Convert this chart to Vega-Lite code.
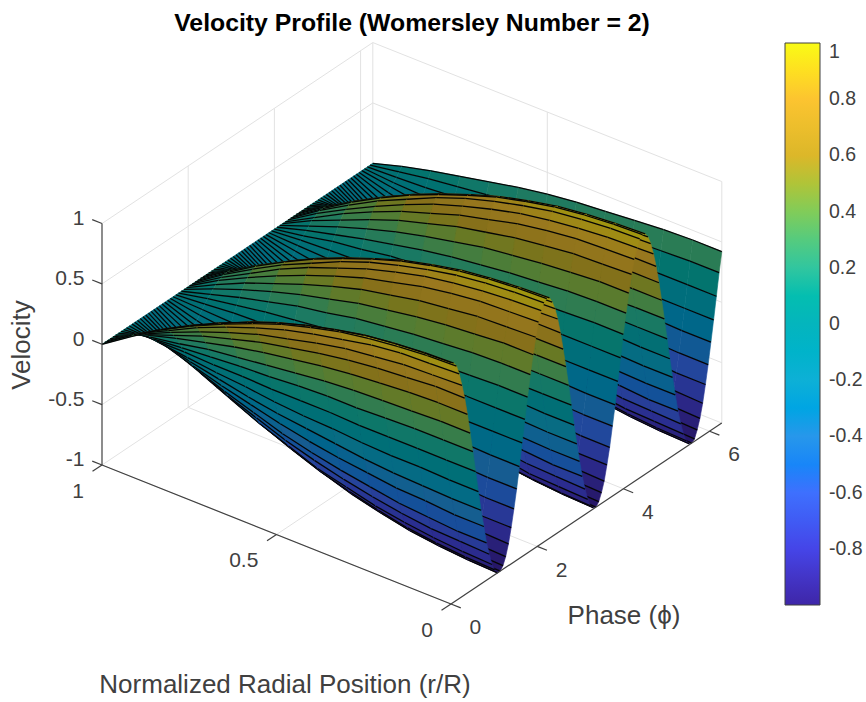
{"$schema":"https://vega.github.io/schema/vega-lite/v6.json","width":866,"height":702,"padding":0,"autosize":{"type":"none"},"background":"#ffffff","view":{"stroke":null},
"title":{"text":"Velocity Profile (Womersley Number = 2)","font":"Liberation Sans","fontSize":24.8,"fontWeight":"bold","color":"#000000","anchor":"middle","frame":"group","dx":-21,"offset":-36},
"datasets":{
"grid":[{"p":0,"r":0,"z":-1,"p2":0,"r2":1,"z2":-1},{"p":2,"r":0,"z":-1,"p2":2,"r2":1,"z2":-1},{"p":4,"r":0,"z":-1,"p2":4,"r2":1,"z2":-1},{"p":6,"r":0,"z":-1,"p2":6,"r2":1,"z2":-1},{"p":6.283,"r":0,"z":-1,"p2":6.283,"r2":1,"z2":-1},{"p":0,"r":0.5,"z":-1,"p2":6.283,"r2":0.5,"z2":-1},{"p":0,"r":1,"z":-1,"p2":6.283,"r2":1,"z2":-1},{"p":0,"r":1,"z":-0.5,"p2":6.283,"r2":1,"z2":-0.5},{"p":0,"r":1,"z":0,"p2":6.283,"r2":1,"z2":0},{"p":0,"r":1,"z":0.5,"p2":6.283,"r2":1,"z2":0.5},{"p":0,"r":1,"z":1,"p2":6.283,"r2":1,"z2":1},{"p":2,"r":1,"z":-1,"p2":2,"r2":1,"z2":1},{"p":4,"r":1,"z":-1,"p2":4,"r2":1,"z2":1},{"p":6,"r":1,"z":-1,"p2":6,"r2":1,"z2":1},{"p":6.283,"r":1,"z":-1,"p2":6.283,"r2":1,"z2":1},{"p":6.283,"r":0,"z":-0.5,"p2":6.283,"r2":1,"z2":-0.5},{"p":6.283,"r":0,"z":0,"p2":6.283,"r2":1,"z2":0},{"p":6.283,"r":0,"z":0.5,"p2":6.283,"r2":1,"z2":0.5},{"p":6.283,"r":0,"z":1,"p2":6.283,"r2":1,"z2":1},{"p":6.283,"r":0.5,"z":-1,"p2":6.283,"r2":0.5,"z2":1},{"p":6.283,"r":0,"z":-1,"p2":6.283,"r2":0,"z2":1}],
"axes":[{"p":0,"r":1,"z":-1,"p2":0,"r2":1,"z2":1},{"p":0,"r":0,"z":-1,"p2":0,"r2":1,"z2":-1},{"p":0,"r":0,"z":-1,"p2":6.283,"r2":0,"z2":-1},{"p":0,"r":1,"z":-1,"p2":0,"r2":1.028,"z2":-1},{"p":0,"r":1,"z":-0.5,"p2":0,"r2":1.028,"z2":-0.5},{"p":0,"r":1,"z":0,"p2":0,"r2":1.028,"z2":0},{"p":0,"r":1,"z":0.5,"p2":0,"r2":1.028,"z2":0.5},{"p":0,"r":1,"z":1,"p2":0,"r2":1.028,"z2":1},{"p":0,"r":0,"z":-1,"p2":-0.22,"r2":0,"z2":-1},{"p":0,"r":0.5,"z":-1,"p2":-0.22,"r2":0.5,"z2":-1},{"p":0,"r":1,"z":-1,"p2":-0.22,"r2":1,"z2":-1},{"p":0,"r":0,"z":-1,"p2":0,"r2":-0.028,"z2":-1},{"p":2,"r":0,"z":-1,"p2":2,"r2":-0.028,"z2":-1},{"p":4,"r":0,"z":-1,"p2":4,"r2":-0.028,"z2":-1},{"p":6,"r":0,"z":-1,"p2":6,"r2":-0.028,"z2":-1}],
"zlabels":[{"t":"1","p":0,"r":1.05,"z":0.98},{"t":"0.5","p":0,"r":1.05,"z":0.48},{"t":"0","p":0,"r":1.05,"z":-0.02},{"t":"-0.5","p":0,"r":1.05,"z":-0.52},{"t":"-1","p":0,"r":1.05,"z":-1.02},{"t":"1","p":-0.42,"r":1,"z":-1.12},{"t":"0.5","p":-0.42,"r":0.5,"z":-1.12},{"t":"0","p":-0.42,"r":0,"z":-1.12}],
"plabels":[{"t":"0","p":0,"r":-0.07,"z":-1.12},{"t":"2","p":2,"r":-0.07,"z":-1.12},{"t":"4","p":4,"r":-0.07,"z":-1.12},{"t":"6","p":6,"r":-0.07,"z":-1.12}],
"surface":[
{"p":6.283,"v":[42,42,41,39,37,35,32,28,23,18,13,7]},
{"p":6.220,"v":[26,26,25,24,23,21,20,17,14,11,8,4]},
{"p":6.157,"v":[8,8,8,8,7,7,6,5,4,4,2,1]},
{"p":6.093,"v":[-10,-10,-10,-9,-9,-8,-8,-7,-6,-4,-3,-2]},
{"p":6.030,"v":[-27,-27,-26,-25,-24,-22,-20,-18,-15,-12,-8,-4]},
{"p":5.966,"v":[-44,-44,-43,-41,-39,-36,-33,-29,-24,-19,-13,-7]},
{"p":5.903,"v":[-59,-59,-57,-55,-52,-49,-44,-39,-33,-26,-18,-9]},
{"p":5.839,"v":[-73,-72,-71,-68,-65,-60,-55,-48,-41,-32,-22,-12]},
{"p":5.776,"v":[-84,-83,-82,-79,-75,-69,-63,-55,-47,-37,-26,-13]},
{"p":5.712,"v":[-92,-91,-89,-86,-82,-76,-69,-61,-51,-40,-28,-15]},
{"p":5.649,"v":[-98,-97,-95,-92,-87,-81,-74,-65,-54,-43,-30,-16]},
{"p":5.585,"v":[-100,-99,-97,-94,-89,-83,-75,-66,-56,-44,-31,-16]},
{"p":5.522,"v":[-99,-98,-96,-93,-88,-82,-74,-65,-55,-43,-30,-16]},
{"p":5.458,"v":[-95,-94,-92,-89,-84,-78,-71,-63,-53,-42,-29,-15]},
{"p":5.395,"v":[-88,-87,-86,-83,-78,-73,-66,-58,-49,-39,-27,-14]},
{"p":5.331,"v":[-78,-77,-76,-73,-69,-64,-59,-51,-43,-34,-24,-12]},
{"p":5.268,"v":[-66,-66,-64,-62,-59,-55,-50,-44,-37,-29,-20,-11]},
{"p":5.204,"v":[-51,-51,-50,-48,-45,-42,-38,-34,-28,-22,-16,-8]},
{"p":5.141,"v":[-35,-35,-34,-33,-31,-29,-26,-23,-19,-15,-11,-6]},
{"p":5.077,"v":[-18,-18,-17,-17,-16,-15,-14,-12,-10,-8,-6,-3]},
{"p":5.014,"v":[0,0,0,0,0,0,0,0,0,0,0,0]},
{"p":4.950,"v":[18,18,17,17,16,15,14,12,10,8,6,3]},
{"p":4.887,"v":[35,35,34,33,31,29,26,23,19,15,11,6]},
{"p":4.824,"v":[51,51,50,48,45,42,38,34,28,22,16,8]},
{"p":4.760,"v":[66,66,64,62,59,55,50,44,37,29,20,11]},
{"p":4.697,"v":[78,77,76,73,69,64,59,51,43,34,24,12]},
{"p":4.633,"v":[88,87,86,83,78,73,66,58,49,39,27,14]},
{"p":4.570,"v":[95,94,92,89,84,78,71,63,53,42,29,15]},
{"p":4.506,"v":[99,98,96,93,88,82,74,65,55,43,30,16]},
{"p":4.443,"v":[100,99,97,94,89,83,75,66,56,44,31,16]},
{"p":4.379,"v":[98,97,95,92,87,81,74,65,54,43,30,16]},
{"p":4.316,"v":[92,91,89,86,82,76,69,61,51,40,28,15]},
{"p":4.252,"v":[84,83,82,79,75,69,63,55,47,37,26,13]},
{"p":4.189,"v":[73,72,71,68,65,60,55,48,41,32,22,12]},
{"p":4.125,"v":[59,59,57,55,52,49,44,39,33,26,18,9]},
{"p":4.062,"v":[44,44,43,41,39,36,33,29,24,19,13,7]},
{"p":3.998,"v":[28,28,27,26,25,23,21,18,16,12,9,4]},
{"p":3.935,"v":[10,10,10,9,9,8,8,7,6,4,3,2]},
{"p":3.871,"v":[-8,-8,-8,-8,-7,-7,-6,-5,-4,-4,-2,-1]},
{"p":3.808,"v":[-26,-26,-25,-24,-23,-21,-20,-17,-14,-11,-8,-4]},
{"p":3.745,"v":[-42,-42,-41,-39,-37,-35,-32,-28,-23,-18,-13,-7]},
{"p":3.681,"v":[-58,-58,-56,-54,-52,-48,-44,-38,-32,-25,-18,-9]},
{"p":3.618,"v":[-71,-71,-69,-67,-63,-59,-53,-47,-39,-31,-22,-11]},
{"p":3.554,"v":[-83,-82,-81,-78,-74,-69,-62,-55,-46,-36,-25,-13]},
{"p":3.491,"v":[-91,-90,-88,-85,-81,-75,-68,-60,-51,-40,-28,-15]},
{"p":3.427,"v":[-97,-96,-94,-91,-86,-80,-73,-64,-54,-42,-30,-16]},
{"p":3.364,"v":[-100,-99,-97,-94,-89,-83,-75,-66,-56,-44,-31,-16]},
{"p":3.300,"v":[-99,-98,-96,-93,-88,-82,-74,-65,-55,-43,-30,-16]},
{"p":3.237,"v":[-96,-95,-93,-90,-85,-79,-72,-63,-53,-42,-29,-15]},
{"p":3.173,"v":[-89,-88,-87,-83,-79,-74,-67,-59,-49,-39,-27,-14]},
{"p":3.110,"v":[-79,-78,-77,-74,-70,-65,-59,-52,-44,-35,-24,-13]},
{"p":3.046,"v":[-67,-67,-65,-63,-60,-55,-50,-44,-37,-29,-21,-11]},
{"p":2.983,"v":[-53,-53,-52,-50,-47,-44,-40,-35,-29,-23,-16,-8]},
{"p":2.920,"v":[-37,-37,-36,-35,-33,-31,-28,-24,-21,-16,-11,-6]},
{"p":2.856,"v":[-20,-20,-19,-19,-18,-17,-15,-13,-11,-9,-6,-3]},
{"p":2.793,"v":[-2,-2,-2,-2,-2,-2,-2,-1,-1,-1,-1,0]},
{"p":2.729,"v":[16,16,16,15,14,13,12,11,9,7,5,3]},
{"p":2.666,"v":[33,33,32,31,29,27,25,22,18,14,10,5]},
{"p":2.602,"v":[49,49,48,46,44,40,37,32,27,21,15,8]},
{"p":2.539,"v":[64,64,62,60,57,53,48,42,36,28,20,10]},
{"p":2.475,"v":[77,76,75,72,68,64,58,51,43,34,24,12]},
{"p":2.412,"v":[87,86,85,82,77,72,65,57,48,38,27,14]},
{"p":2.348,"v":[94,93,91,88,84,78,71,62,52,41,29,15]},
{"p":2.285,"v":[99,98,96,93,88,82,74,65,55,43,30,16]},
{"p":2.221,"v":[100,99,97,94,89,83,75,66,56,44,31,16]},
{"p":2.158,"v":[98,97,95,92,87,81,74,65,54,43,30,16]},
{"p":2.094,"v":[93,92,90,87,83,77,70,61,52,41,28,15]},
{"p":2.031,"v":[85,84,83,80,76,70,64,56,47,37,26,14]},
{"p":1.967,"v":[74,73,72,69,66,61,56,49,41,32,23,12]},
{"p":1.904,"v":[61,61,59,57,54,50,46,40,34,27,19,10]},
{"p":1.841,"v":[46,46,45,43,41,38,35,30,26,20,14,7]},
{"p":1.777,"v":[29,29,28,27,26,24,22,19,16,13,9,5]},
{"p":1.714,"v":[12,12,12,11,11,10,9,8,7,5,4,2]},
{"p":1.650,"v":[-6,-6,-6,-6,-5,-5,-5,-4,-3,-3,-2,-1]},
{"p":1.587,"v":[-24,-24,-23,-23,-21,-20,-18,-16,-13,-11,-7,-4]},
{"p":1.523,"v":[-41,-41,-40,-38,-36,-34,-31,-27,-23,-18,-13,-7]},
{"p":1.460,"v":[-56,-56,-54,-53,-50,-46,-42,-37,-31,-25,-17,-9]},
{"p":1.396,"v":[-70,-70,-68,-66,-62,-58,-53,-46,-39,-31,-21,-11]},
{"p":1.333,"v":[-82,-81,-80,-77,-73,-68,-62,-54,-46,-36,-25,-13]},
{"p":1.269,"v":[-91,-90,-88,-85,-81,-75,-68,-60,-51,-40,-28,-15]},
{"p":1.206,"v":[-97,-96,-94,-91,-86,-80,-73,-64,-54,-42,-30,-16]},
{"p":1.142,"v":[-100,-99,-97,-94,-89,-83,-75,-66,-56,-44,-31,-16]},
{"p":1.079,"v":[-100,-99,-97,-94,-89,-83,-75,-66,-56,-44,-31,-16]},
{"p":1.015,"v":[-96,-95,-93,-90,-85,-79,-72,-63,-53,-42,-29,-15]},
{"p":0.952,"v":[-90,-89,-87,-84,-80,-74,-68,-59,-50,-39,-28,-14]},
{"p":0.889,"v":[-80,-79,-78,-75,-71,-66,-60,-53,-44,-35,-24,-13]},
{"p":0.825,"v":[-69,-69,-67,-65,-61,-57,-52,-46,-38,-30,-21,-11]},
{"p":0.762,"v":[-54,-54,-52,-51,-48,-45,-41,-36,-30,-24,-17,-9]},
{"p":0.698,"v":[-39,-39,-38,-37,-35,-32,-29,-26,-22,-17,-12,-6]},
{"p":0.635,"v":[-22,-22,-21,-21,-20,-18,-17,-15,-12,-10,-7,-4]},
{"p":0.571,"v":[-4,-4,-4,-4,-4,-3,-3,-3,-2,-2,-1,-1]},
{"p":0.508,"v":[14,14,14,13,12,12,11,9,8,6,4,2]},
{"p":0.444,"v":[31,31,30,29,28,26,23,20,17,14,9,5]},
{"p":0.381,"v":[48,48,47,45,43,40,36,32,27,21,15,8]},
{"p":0.317,"v":[63,63,61,59,56,52,47,42,35,28,19,10]},
{"p":0.254,"v":[75,74,73,70,67,62,56,50,42,33,23,12]},
{"p":0.190,"v":[86,85,84,81,76,71,65,57,48,38,26,14]},
{"p":0.127,"v":[94,93,91,88,84,78,71,62,52,41,29,15]},
{"p":0.063,"v":[98,97,95,92,87,81,74,65,54,43,30,16]},
{"p":0,"v":[100,99,97,94,89,83,75,66,56,44,31,16]}
]},
"layer":[
{"data":{"name":"grid"},"transform":[{"calculate":"451+43.1*datum.p-349*datum.r","as":"x"},{"calculate":"604-28.8*datum.p-139*datum.r-120.75*(1+datum.z)","as":"y"},{"calculate":"451+43.1*datum.p2-349*datum.r2","as":"x2"},{"calculate":"604-28.8*datum.p2-139*datum.r2-120.75*(1+datum.z2)","as":"y2"}],"mark":{"type":"rule","color":"#e2e2e2","strokeWidth":1},"encoding":{"x":{"field":"x","type":"quantitative","scale":{"domain":[0,866],"range":[0,866]},"axis":null},"y":{"field":"y","type":"quantitative","scale":{"domain":[0,702],"range":[0,702]},"axis":null},"x2":{"field":"x2"},"y2":{"field":"y2"}}},
{"data":{"name":"surface"},"transform":[{"window":[{"op":"lead","field":"v","as":"vn"},{"op":"lead","field":"p","as":"pn"}],"sort":[{"field":"p","order":"ascending"}]},{"filter":"datum.pn!=null"},{"calculate":"[11,10,9,8,7,6,5,4,3,2,1,0]","as":"j"},{"flatten":["j"]},{"calculate":"[0,1,2]","as":"k"},{"flatten":["k"]},{"filter":"datum.k<2||datum.p==0"},{"calculate":"datum.j/12","as":"r0"},{"calculate":"(datum.j+1)/12","as":"r1"},{"calculate":"datum.v[datum.j]/100","as":"a"},{"calculate":"(datum.v[datum.j+1]||0)/100","as":"b"},{"calculate":"datum.vn[datum.j]/100","as":"c"},{"calculate":"(datum.vn[datum.j+1]||0)/100","as":"d"},{"calculate":"'Feature'","as":"type"},{"calculate":"datum.k==2?{type:'LineString',coordinates:[[451+43.1*datum.p-349*datum.r0,604-28.8*datum.p-139*datum.r0-120.75*(1+datum.a)],[451+43.1*datum.p-349*datum.r1,604-28.8*datum.p-139*datum.r1-120.75*(1+datum.b)]]}:datum.k==1?{type:'LineString',coordinates:[[451+43.1*datum.pn-349*datum.r0,604-28.8*datum.pn-139*datum.r0-120.75*(1+datum.c)],[451+43.1*datum.pn-349*datum.r1,604-28.8*datum.pn-139*datum.r1-120.75*(1+datum.d)]]}:{type:'Polygon',coordinates:[[[451+43.1*datum.p-349*datum.r0,604-28.8*datum.p-139*datum.r0-120.75*(1+datum.a)],[451+43.1*datum.pn-349*datum.r0,604-28.8*datum.pn-139*datum.r0-120.75*(1+datum.c)],[451+43.1*datum.pn-349*datum.r1,604-28.8*datum.pn-139*datum.r1-120.75*(1+datum.d)],[451+43.1*datum.p-349*datum.r1,604-28.8*datum.p-139*datum.r1-120.75*(1+datum.b)],[451+43.1*datum.p-349*datum.r0,604-28.8*datum.p-139*datum.r0-120.75*(1+datum.a)]]]}","as":"geometry"}],"projection":{"type":"identity","scale":1,"translate":[0,0]},"mark":{"type":"geoshape"},"encoding":{"fill":{"field":"a","type":"quantitative","legend":null,"scale":{"domain":[-1,-0.8,-0.6,-0.4,-0.2,0,0.2,0.4,0.6,0.8,1],"range":["#261767","#2b2b8e","#26459c","#185d90","#086c83","#036f74","#1e7a61","#4f7d36","#86701a","#9a781e","#a09a0d"]}},"stroke":{"condition":{"test":"datum.k>=1","value":"#050505"},"field":"a","type":"quantitative","legend":null,"scale":{"domain":[-1,-0.8,-0.6,-0.4,-0.2,0,0.2,0.4,0.6,0.8,1],"range":["#261767","#2b2b8e","#26459c","#185d90","#086c83","#036f74","#1e7a61","#4f7d36","#86701a","#9a781e","#a09a0d"]}},"strokeWidth":{"condition":{"test":"datum.k>=1","value":1.3},"value":0.6}}},
{"data":{"name":"axes"},"transform":[{"calculate":"451+43.1*datum.p-349*datum.r","as":"x"},{"calculate":"604-28.8*datum.p-139*datum.r-120.75*(1+datum.z)","as":"y"},{"calculate":"451+43.1*datum.p2-349*datum.r2","as":"x2"},{"calculate":"604-28.8*datum.p2-139*datum.r2-120.75*(1+datum.z2)","as":"y2"}],"mark":{"type":"rule","color":"#404040","strokeWidth":1.2},"encoding":{"x":{"field":"x","type":"quantitative","scale":{"domain":[0,866],"range":[0,866]},"axis":null},"y":{"field":"y","type":"quantitative","scale":{"domain":[0,702],"range":[0,702]},"axis":null},"x2":{"field":"x2"},"y2":{"field":"y2"}}},
{"data":{"name":"zlabels"},"transform":[{"calculate":"451+43.1*datum.p-349*datum.r","as":"x"},{"calculate":"604-28.8*datum.p-139*datum.r-120.75*(1+datum.z)","as":"y"}],"mark":{"type":"text","align":"right","baseline":"middle","font":"Liberation Sans","fontSize":21,"color":"#404040"},"encoding":{"x":{"field":"x","type":"quantitative","scale":{"domain":[0,866],"range":[0,866]},"axis":null},"y":{"field":"y","type":"quantitative","scale":{"domain":[0,702],"range":[0,702]},"axis":null},"text":{"field":"t"}}},
{"data":{"name":"plabels"},"transform":[{"calculate":"451+43.1*datum.p-349*datum.r","as":"x"},{"calculate":"604-28.8*datum.p-139*datum.r-120.75*(1+datum.z)","as":"y"}],"mark":{"type":"text","align":"center","baseline":"middle","font":"Liberation Sans","fontSize":21,"color":"#404040"},"encoding":{"x":{"field":"x","type":"quantitative","scale":{"domain":[0,866],"range":[0,866]},"axis":null},"y":{"field":"y","type":"quantitative","scale":{"domain":[0,702],"range":[0,702]},"axis":null},"text":{"field":"t"}}},
{"data":{"values":[{"t":"Phase (ϕ)","cx":624,"cy":616},{"t":"Normalized Radial Position (r/R)","cx":285,"cy":685}]},"mark":{"type":"text","align":"center","baseline":"middle","font":"Liberation Sans","fontSize":26,"color":"#404040"},"encoding":{"x":{"field":"cx","type":"quantitative","scale":{"domain":[0,866],"range":[0,866]},"axis":null},"y":{"field":"cy","type":"quantitative","scale":{"domain":[0,702],"range":[0,702]},"axis":null},"text":{"field":"t"}}},
{"data":{"values":[{"t":"Velocity","cx":22,"cy":345}]},"mark":{"type":"text","align":"center","baseline":"middle","angle":270,"font":"Liberation Sans","fontSize":26,"color":"#404040"},"encoding":{"x":{"field":"cx","type":"quantitative","scale":{"domain":[0,866],"range":[0,866]},"axis":null},"y":{"field":"cy","type":"quantitative","scale":{"domain":[0,702],"range":[0,702]},"axis":null},"text":{"field":"t"}}},
{"data":{"values":[{"c":-1},{"c":1}]},"mark":{"type":"point","filled":true,"opacity":0},"encoding":{"color":{"field":"c","type":"quantitative","scale":{"domain":[-1,-0.8,-0.6,-0.4,-0.2,0,0.2,0.4,0.6,0.8,1],"range":["#3e26a8","#4545e8","#3e70fe","#2797eb","#0db0d6","#04b5bd","#31c69f","#81cc59","#dcb729","#fcc430","#f9fb15"]},"legend":{"orient":"none","legendX":785,"legendY":43,"gradientLength":562,"gradientThickness":35,"gradientStrokeColor":"#404040","gradientStrokeWidth":1,"labelFont":"Liberation Sans","labelFontSize":19.5,"labelColor":"#404040","labelOffset":9,"title":null,"direction":"vertical","values":[-0.8,-0.6,-0.4,-0.2,0,0.2,0.4,0.6,0.8,1],"labelExpr":"''+round(datum.value*10)/10"}}}},
{"data":{"values":[{"c":-0.8},{"c":-0.6},{"c":-0.4},{"c":-0.2},{"c":0},{"c":0.2},{"c":0.4},{"c":0.6},{"c":0.8}]},"transform":[{"calculate":"43+(1-datum.c)*281","as":"y"}],"mark":{"type":"rule","color":"#303030","strokeWidth":1},"encoding":{"x":{"datum":815,"type":"quantitative","scale":{"domain":[0,866],"range":[0,866]},"axis":null},"x2":{"datum":820},"y":{"field":"y","type":"quantitative","scale":{"domain":[0,702],"range":[0,702]},"axis":null}}}
],"resolve":{"scale":{"x":"shared","y":"shared","color":"independent","fill":"independent","stroke":"independent"}}}
